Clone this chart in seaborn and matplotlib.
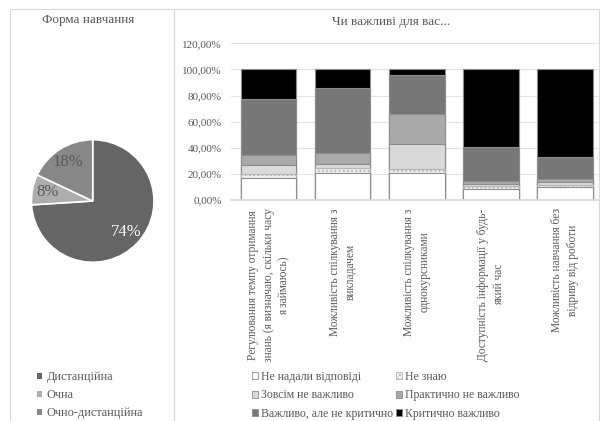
import matplotlib
matplotlib.use("Agg")

import numpy as np
import pandas as pd
import matplotlib.pyplot as plt
from matplotlib.patches import Patch, Rectangle
import seaborn as sns

# Data
PIE_LABELS = ['Дистанційна', 'Очна', 'Очно-дистанційна']
PIE_VALUES = [74, 8, 18]
PIE_COLORS = ['#656565', '#adadad', '#878787']

ITEMS = [
    'Регулювання темпу отримання\nзнань (я визначаю, скільки часу\nя займаюсь)',
    'Можливість спілкування з\nвикладачем',
    'Можливість спілкування з\nоднокурсниками',
    'Доступність інформації у будь-\nякий час',
    'Можливість навчання без\nвідриву від роботи',
]
SERIES = ['Не надали відповіді', 'Не знаю', 'Зовсім не важливо',
          'Практично не важливо', 'Важливо, але не критично', 'Критично важливо']
no_answer = [16.8, 21.0, 20.5, 8.2, 10.2]
dont_know = [2.9, 3.6, 3.6, 2.5, 1.1]
not_at_all = [6.9, 2.8, 18.5, 1.8, 2.3]
practically_not = [7.7, 8.9, 23.2, 1.8, 2.5]
important = [43.1, 49.2, 29.9, 26.1, 16.6]
critical = [22.6, 14.5, 4.3, 59.6, 67.3]
SERIES_COLORS = ['#ffffff', '#f0f0f0', '#dadada', '#a9a9a9', '#777777', '#000000']
SERIES_HATCH = [None, '....', None, None, None, None]

TEXT = '#595959'
EDGE = '#8c8c8c'

sns.set_theme(style='white')
plt.rcParams['font.family'] = ['Liberation Serif', 'DejaVu Serif']

fig = plt.figure(figsize=(6.0, 4.21), dpi=100)
W, H = 600, 421

def fx(px):
    return px / W

def fy(py):
    return 1 - py / H

# panel frames
fig.patches.append(Rectangle((fx(10), 0), fx(164), fy(9), transform=fig.transFigure,
                             fill=False, edgecolor='#d9d9d9', lw=0.8))
fig.patches.append(Rectangle((fx(174), 0), fx(425), fy(9), transform=fig.transFigure,
                             fill=False, edgecolor='#d9d9d9', lw=0.8))

# ---- Pie ----
cx, cy, r = 92.7, 201, 62.5
ax_pie = fig.add_axes([fx(cx - r), fy(cy + r), fx(2 * r), 2 * r / H])
wedges, texts, autotexts = ax_pie.pie(
    PIE_VALUES, colors=PIE_COLORS, startangle=90, counterclock=False,
    autopct='%1.0f%%', pctdistance=0.75,
    wedgeprops=dict(edgecolor='white', linewidth=1.2),
    textprops=dict(fontsize=12, color=TEXT))
autotexts[0].set_color('white')
ax_pie.set_xlim(-1.02, 1.02)
ax_pie.set_ylim(-1.02, 1.02)
ax_pie.set_aspect('equal')

fig.text(fx(88), fy(20), 'Форма навчання', ha='center', va='center',
         fontsize=9.5, color=TEXT)

pie_handles = [Patch(facecolor=c, edgecolor='none') for c in PIE_COLORS]
fig.legend(pie_handles, PIE_LABELS, loc='upper left',
           bbox_to_anchor=(fx(37), fy(371)), frameon=False, fontsize=8.8,
           labelcolor=TEXT, handlelength=0.4, handleheight=0.4,
           handletextpad=0.4, labelspacing=0.5, borderaxespad=0, borderpad=0)

# ---- Stacked bars ----
ax = fig.add_axes([fx(231.5), fy(200), fx(602 - 231.5), (200 - 43.3) / H])
df = pd.DataFrame(
    [no_answer, dont_know, not_at_all, practically_not, important, critical],
    index=SERIES).T
df['item'] = [f'i{k}' for k in range(len(ITEMS))]
cum = df[SERIES].cumsum(axis=1)
cum['item'] = df['item']

for name, color, hatch in reversed(list(zip(SERIES, SERIES_COLORS, SERIES_HATCH))):
    sns.barplot(data=cum, x='item', y=name, color=color, saturation=1,
                errorbar=None, width=0.75,
                edgecolor='#b5b5b5' if hatch else EDGE, linewidth=0.8,
                hatch=hatch, ax=ax)

ax.set_ylim(0, 120)
ax.set_xlim(-0.5, 4.5)
ax.set_yticks(np.arange(0, 121, 20))
ax.set_yticklabels([f'{v:.2f}%'.replace('.', ',') for v in np.arange(0, 121, 20)])
ax.set_xticks(range(len(ITEMS)))
ax.set_xticklabels(ITEMS, rotation=90, ha='center', va='top',
                   multialignment='center', linespacing=1.4)
ax.tick_params(axis='y', labelsize=8, colors=TEXT, length=0, pad=7)
ax.tick_params(axis='x', labelsize=8.3, colors=TEXT, length=0, pad=6)
ax.set_xlabel('')
ax.set_ylabel('')
ax.grid(axis='y', color='#e3e3e3', lw=0.8)
ax.set_axisbelow(True)
for side in ['top', 'right', 'left']:
    ax.spines[side].set_visible(False)
ax.spines['bottom'].set_color('#d9d9d9')
ax.patch.set_alpha(0)

fig.text(fx(391), fy(22), 'Чи важливі для вас...', ha='center', va='center',
         fontsize=9.5, color=TEXT)

bar_handles = [Patch(facecolor=c, edgecolor='#b5b5b5' if h else EDGE, hatch=h, lw=0.6)
               for c, h in zip(SERIES_COLORS, SERIES_HATCH)]
# legend reads row by row: reorder for matplotlib's column filling
order = [0, 2, 4, 1, 3, 5]
fig.legend([bar_handles[i] for i in order], [SERIES[i] for i in order],
           loc='upper left', ncol=2,
           bbox_to_anchor=(fx(252), fy(371)), frameon=False, fontsize=8.5,
           labelcolor=TEXT, handlelength=0.55, handleheight=0.55,
           handletextpad=0.25, labelspacing=0.55, columnspacing=0.2,
           borderaxespad=0, borderpad=0)

fig.savefig('out.png', dpi=100)
